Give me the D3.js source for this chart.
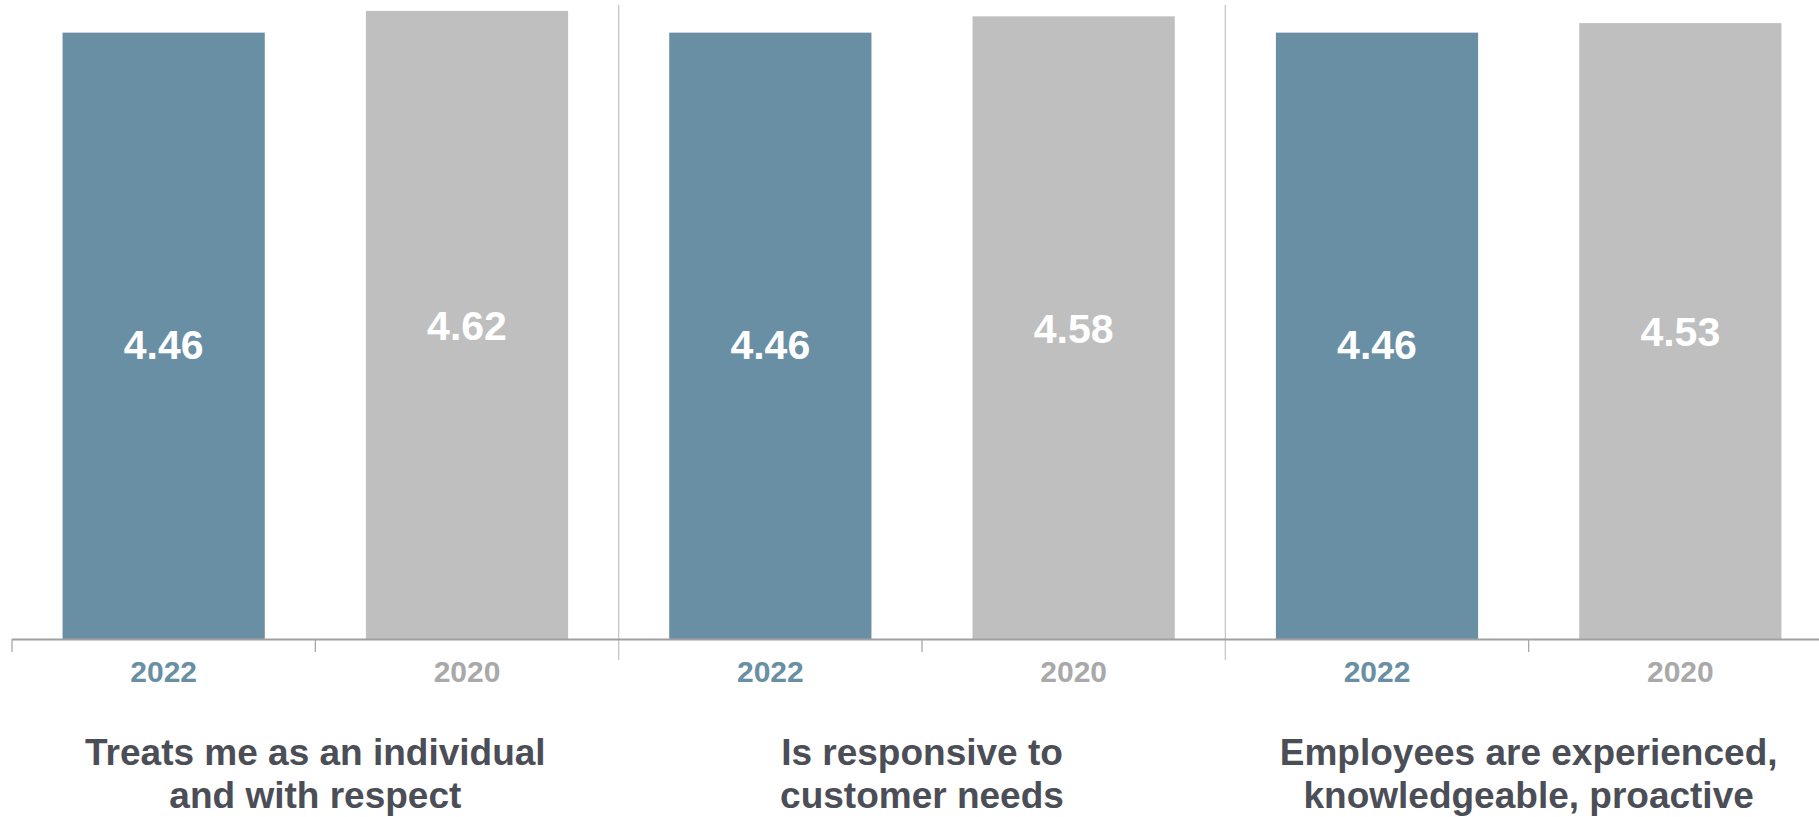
<!DOCTYPE html>
<html>
<head>
<meta charset="utf-8">
<script src="https://cdn.jsdelivr.net/npm/d3@7"></script>
<style>
  html, body { margin: 0; padding: 0; background: #ffffff; }
  svg { display: block; font-family: "Liberation Sans", Arial, sans-serif; }
</style>
</head>
<body>
<svg id="chart" width="1819" height="817"></svg>
<script>
// Survey items, one panel each (label lines as drawn under the panel)
const categories = [
  ["Treats me as an individual", "and with respect"],
  ["Is responsive to", "customer needs"],
  ["Employees are experienced,", "knowledgeable, proactive"]
];
const years = ["2022", "2020"];
const values2022 = [4.46, 4.46, 4.46];
const values2020 = [4.62, 4.58, 4.53];

const seriesValues = { "2022": values2022, "2020": values2020 };
const colors = { "2022": "#698fa5", "2020": "#bfbfbf" };
const yearLabelColors = { "2022": "#698fa5", "2020": "#a9a9a9" };
// vertical nudge of the value label from the bar's midpoint
const labelNudge = { "2022": 8.5, "2020": 0.5 };

const W = 1819, H = 817;
const svg = d3.select("#chart");

const catKeys = categories.map((d, i) => i);
const x0 = d3.scaleBand().domain(catKeys).range([12, 1832]).padding(0);
const x1 = d3.scaleBand().domain(years).range([0, x0.bandwidth()])
  .paddingInner(1 / 3).paddingOuter(1 / 6);
const y = d3.scaleLinear().domain([0, 4.7]).range([639, 0]);

const rows = [];
catKeys.forEach(c => years.forEach(yr => rows.push({ c, yr, v: seriesValues[yr][c] })));

// panel dividers
const dividers = catKeys.slice(1).map(c => x0(c));
svg.append("g").selectAll("line").data(dividers).join("line")
  .attr("x1", d => d).attr("x2", d => d)
  .attr("y1", 5).attr("y2", 660)
  .attr("stroke", "#c6c6c6").attr("stroke-width", 1.3);

// bars
svg.append("g").selectAll("rect").data(rows).join("rect")
  .attr("x", d => x0(d.c) + x1(d.yr))
  .attr("width", x1.bandwidth())
  .attr("y", d => y(d.v))
  .attr("height", d => y(0) - y(d.v))
  .attr("fill", d => colors[d.yr]);

// value labels
svg.append("g").selectAll("text").data(rows).join("text")
  .attr("x", d => x0(d.c) + x1(d.yr) + x1.bandwidth() / 2)
  .attr("y", d => (y(d.v) + y(0)) / 2 + labelNudge[d.yr] + 14.7)
  .attr("text-anchor", "middle")
  .attr("font-size", 41).attr("font-weight", "bold")
  .attr("fill", "#ffffff")
  .text(d => d.v.toFixed(2));

// baseline axis with ticks at every band edge
const axisG = svg.append("g");
axisG.append("line")
  .attr("x1", x0.range()[0]).attr("x2", W)
  .attr("y1", y(0) + 0.5).attr("y2", y(0) + 0.5)
  .attr("stroke", "#a0a0a0").attr("stroke-width", 2);
const tickXs = [];
catKeys.forEach(c => years.forEach((yr, j) => tickXs.push(x0(c) + j * x1.step())));
axisG.selectAll("line.tick").data(tickXs.filter(t => !dividers.includes(t))).join("line")
  .attr("class", "tick")
  .attr("x1", d => d).attr("x2", d => d)
  .attr("y1", y(0)).attr("y2", 652)
  .attr("stroke", "#a8a8a8").attr("stroke-width", 1.3);

// year labels under each bar
svg.append("g").selectAll("text").data(rows).join("text")
  .attr("x", d => x0(d.c) + x1(d.yr) + x1.bandwidth() / 2)
  .attr("y", 682)
  .attr("text-anchor", "middle")
  .attr("font-size", 30).attr("font-weight", "bold")
  .attr("fill", d => yearLabelColors[d.yr])
  .text(d => d.yr);

// item labels under each panel
const catG = svg.append("g").selectAll("text").data(catKeys).join("text")
  .attr("x", c => x0(c) + x0.bandwidth() / 2)
  .attr("y", 765)
  .attr("text-anchor", "middle")
  .attr("font-size", 37).attr("font-weight", "bold")
  .attr("fill", "#4b4e56");
catG.selectAll("tspan").data(c => categories[c]).join("tspan")
  .attr("x", function () { return d3.select(this.parentNode).attr("x"); })
  .attr("dy", (d, i) => i === 0 ? 0 : 43)
  .text(d => d);
</script>
</body>
</html>
